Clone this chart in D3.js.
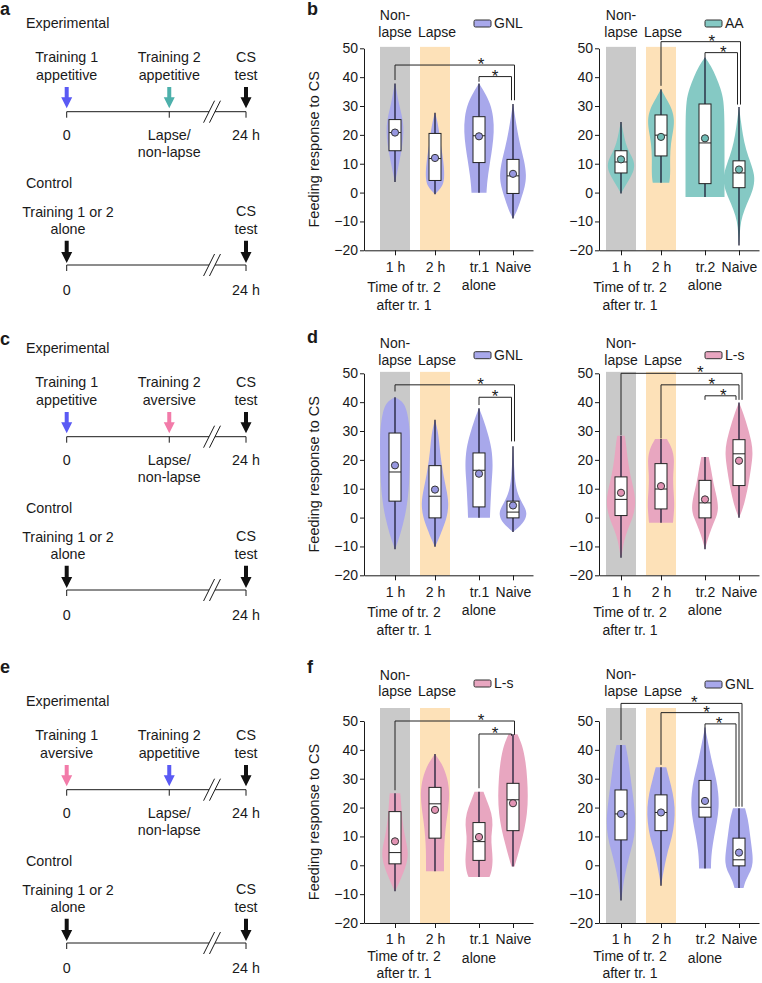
<!DOCTYPE html>
<html>
<head>
<meta charset="utf-8">
<title>Lapse / non-lapse violins</title>
<script src="https://cdn.jsdelivr.net/npm/d3@7"></script>
<style>
	body { margin: 0; background: #fff; }
	svg text { font-family: 'Liberation Sans', Arial, Helvetica, sans-serif; fill: #1a1a1a; }
	.axis path, .axis line { stroke: #1a1a1a; stroke-width: 1; fill: none; }
	.axis text { font-size: 14px; }
</style>
</head>
<body>
<script>
// ---- data ----
var catsTr1 = ["1 h", "2 h", "tr.1", "Naive"];
var catsTr2 = ["1 h", "2 h", "tr.2", "Naive"];
var yTicks = [-20, -10, 0, 10, 20, 30, 40, 50];

// box stats per group: [q1, median, q3, mean]
var boxB1 = [[14.5, 20.8, 25.3, 20.8], [4.2, 11.8, 20.5, 12], [10.4, 19.7, 26.3, 19.5], [-0.3, 5.8, 11.5, 6.5]];
var boxB2 = [[6.8, 10.6, 14.5, 11.5], [12.7, 19.9, 26.9, 19.3], [3.1, 17.2, 30.7, 18.8], [1.7, 6.8, 11, 8]];
var boxD1 = [[5.7, 15.8, 29.3, 18.1], [-0.1, 7.4, 18, 9.7], [3.7, 16.4, 22.4, 15.2], [-0.1, 1.9, 5.7, 4.2]];
var boxD2 = [[0.7, 6.3, 14.1, 8.6], [3, 9.9, 18.7, 10.9], [-0.1, 5.1, 12.9, 6.3], [11.1, 22.1, 27, 19.7]];
var boxF1 = [[0.5, 4.4, 18.6, 8.3], [9.4, 21.3, 27, 19.2], [1.7, 8.2, 14.8, 9.8], [12, 22.7, 28.4, 21.5]];
var boxF2 = [[8.8, 17.8, 26.1, 17.8], [12, 18.3, 24.4, 18.3], [16.7, 20.1, 29.4, 22.3], [-0.2, 1.9, 9.4, 4.4]];

// violin outlines, top to bottom: [value, relative half-width]
var violinB1 = [
	[[37.8, 0], [35, 0.12], [31, 0.25], [27, 0.45], [23, 0.58], [19, 0.55], [15, 0.45], [11, 0.3], [7, 0.15], [3.7, 0]],
	[[27.7, 0], [25, 0.15], [21, 0.28], [17, 0.38], [13, 0.5], [9, 0.6], [5, 0.63], [2, 0.5], [-0.6, 0]],
	[[37.8, 0], [35, 0.35], [31, 0.75], [26, 0.97], [21, 1.0], [16, 0.9], [11, 0.75], [6, 0.6], [2, 0.52], [-0.1, 0.5]],
	[[30.7, 0], [26, 0.15], [21, 0.3], [16, 0.5], [11, 0.75], [6, 0.9], [2, 0.8], [-2, 0.55], [-6, 0.3], [-9, 0]]
];
var violinB2 = [
	[[24.5, 0], [21, 0.15], [17, 0.3], [14, 0.55], [11, 0.88], [8, 0.9], [5, 0.6], [2, 0.25], [-0.3, 0]],
	[[35.8, 0], [33, 0.3], [29, 0.75], [25, 0.9], [21, 0.8], [17, 0.65], [12, 0.6], [8, 0.62], [5, 0.6], [3.4, 0.55]],
	[[46.9, 0], [44, 0.4], [40, 0.75], [36, 1.05], [32, 1.25], [25, 1.3], [15, 1.3], [5, 1.3], [-1.5, 1.3]],
	[[29.7, 0], [25, 0.12], [20, 0.25], [15, 0.45], [10, 0.8], [6, 1.05], [2, 1.0], [-2, 0.7], [-6, 0.35], [-10, 0.12], [-14, 0.05], [-18.3, 0]]
];
var violinD1 = [
	[[41.7, 0], [40, 0.6], [36, 0.85], [30, 1.0], [24, 1.0], [18, 0.98], [12, 0.95], [6, 0.85], [0, 0.65], [-5, 0.4], [-9, 0.15], [-11, 0]],
	[[33.9, 0], [30, 0.2], [25, 0.3], [20, 0.4], [15, 0.55], [10, 0.75], [5, 0.93], [0, 0.8], [-4, 0.5], [-8, 0.2], [-10.1, 0]],
	[[37.9, 0], [34, 0.3], [29, 0.6], [24, 0.85], [18, 0.93], [13, 0.85], [8, 0.8], [3, 0.75], [-0.1, 0.73]],
	[[24.7, 0], [20, 0.05], [15, 0.1], [10, 0.2], [6, 0.5], [3, 0.85], [1, 0.93], [-2, 0.7], [-5, 0]]
];
var violinD2 = [
	[[28.4, 0.25], [25, 0.35], [20, 0.45], [15, 0.6], [10, 0.85], [5, 1.0], [0, 0.8], [-4, 0.45], [-8, 0.2], [-12, 0.08], [-13.9, 0]],
	[[27.2, 0.4], [24, 0.75], [20, 0.9], [15, 0.8], [10, 0.82], [5, 0.9], [1, 0.85], [-1.8, 0.8]],
	[[21, 0.25], [17, 0.4], [12, 0.55], [7, 0.8], [3, 0.9], [0, 0.75], [-4, 0.4], [-8, 0.15], [-11, 0]],
	[[39.9, 0], [36, 0.3], [31, 0.6], [26, 0.85], [22, 0.93], [17, 0.8], [12, 0.65], [7, 0.45], [3, 0.25], [-0.1, 0]]
];
var violinF1 = [
	[[25, 0.35], [22, 0.4], [18, 0.45], [13, 0.55], [8, 0.75], [4, 0.9], [0, 0.75], [-4, 0.45], [-7, 0.2], [-9, 0]],
	[[38.6, 0], [35, 0.5], [30, 0.85], [25, 0.97], [20, 0.9], [15, 0.75], [10, 0.65], [5, 0.6], [0, 0.6], [-2.1, 0.6]],
	[[25.5, 0.3], [22, 0.55], [18, 0.85], [14, 0.93], [10, 0.8], [6, 0.85], [2, 0.93], [-2, 0.85], [-4.1, 0.7]],
	[[45.4, 0.3], [42, 0.6], [36, 0.85], [30, 0.95], [24, 1.0], [18, 0.95], [12, 0.75], [7, 0.5], [3, 0.3], [-0.4, 0.1]]
];
var violinF2 = [
	[[41.7, 0.3], [38, 0.45], [32, 0.6], [26, 0.75], [20, 0.9], [15, 0.97], [10, 0.9], [5, 0.65], [0, 0.4], [-5, 0.2], [-10, 0.07], [-12.2, 0]],
	[[34, 0.35], [30, 0.55], [25, 0.8], [20, 0.93], [15, 0.9], [10, 0.75], [5, 0.45], [0, 0.25], [-4, 0.1], [-7.1, 0]],
	[[47.8, 0], [44, 0.15], [40, 0.3], [35, 0.5], [30, 0.75], [25, 0.9], [20, 0.93], [15, 0.8], [10, 0.6], [5, 0.45], [1, 0.4], [-1.1, 0.4]],
	[[19.8, 0.4], [16, 0.6], [12, 0.7], [8, 0.8], [4, 0.9], [1, 0.93], [-2, 0.8], [-5, 0.45], [-7.9, 0.3]]
];

// significance brackets: [from, to, level, left leg end, right leg end, star position]
var bracketsB1 = [[0, 3, 44.2, 39, 32, 2.15], [2, 3, 40.2, 38.4, 32, 2.5]];
var bracketsB2 = [[1, 3, 52.3, 37, 30.5, 2.27], [2, 3, 48.5, 46.9, 30.5, 2.56]];
var bracketsD1 = [[0, 3, 46, 43.7, 26.4, 2.14], [2, 3, 41.7, 39, 26.4, 2.5]];
var bracketsD2 = [[0, 3, 50, 28.6, 40.8, 1.98], [1, 3, 46, 27.4, 40.8, 2.27], [2, 3, 42.2, 40.8, 40.8, 2.56]];
var bracketsF1 = [[0, 3, 50, 26, 45.2, 2.15], [2, 3, 45.5, 26.7, 44.9, 2.5]];
var bracketsF2 = [[0, 3, 56.1, 43.4, 20.3, 1.83], [1, 3, 52.9, 34.8, 20.3, 2.14], [2, 3, 49, 47.8, 20.3, 2.45]];

// schematic texts (training kinds for training 1 / training 2)
var trainingKinds = [["appetitive", "appetitive"], ["appetitive", "aversive"], ["aversive", "appetitive"]];

// ---- styles / layout ----
var groupStyle = {
	"GNL": {fill: "#a8a8eb", dot: "#9797e0"},
	"AA": {fill: "#85c9c4", dot: "#6fbcb6"},
	"L-s": {fill: "#e8a6c0", dot: "#e293b3"}
};
var arrowCol = {blue: "#5a5af4", teal: "#4db0ab", pink: "#f27ba9", black: "#111"};
var catPos = [0, 1, 2.1, 2.95];
var step = 40;

var panels = [
	{letter: "b", side: 0, yTop: 48.3, cats: catsTr1, box: boxB1, vio: violinB1, br: bracketsB1, group: "GNL", letterDy: -33.3, nonDy: -28.3, lapseDy: -11.6, legDy: -28.3, bandTop: 50.5},
	{letter: "", side: 1, yTop: 48.3, cats: catsTr2, box: boxB2, vio: violinB2, br: bracketsB2, group: "AA", nonDy: -28.3, lapseDy: -11.6, legDy: -28.3, bandTop: 50.5},
	{letter: "d", side: 0, yTop: 373.3, cats: catsTr1, box: boxD1, vio: violinD1, br: bracketsD1, group: "GNL", letterDy: -30.3, nonDy: -25, lapseDy: -8.3, legDy: -21.6, bandTop: 50.5},
	{letter: "", side: 1, yTop: 373.3, cats: catsTr2, box: boxD2, vio: violinD2, br: bracketsD2, group: "L-s", nonDy: -25, lapseDy: -8.3, legDy: -21.6, bandTop: 50.5},
	{letter: "f", side: 0, yTop: 721, cats: catsTr1, box: boxF1, vio: violinF1, br: bracketsF1, group: "L-s", letterDy: -48, nonDy: -41.5, lapseDy: -24.6, legDy: -41, bandTop: 54.5},
	{letter: "", side: 1, yTop: 721, cats: catsTr2, box: boxF2, vio: violinF2, br: bracketsF2, group: "GNL", nonDy: -42.5, lapseDy: -25.5, legDy: -40, bandTop: 54.5}
];

var diagrams = [
	{letter: "a", oy: 0, letterY: 15, c1: arrowCol.blue, c2: arrowCol.teal},
	{letter: "c", oy: 325, letterY: 345, c1: arrowCol.blue, c2: arrowCol.pink},
	{letter: "e", oy: 678, letterY: 673, c1: arrowCol.pink, c2: arrowCol.blue}
];

var svg = d3.select("body").append("svg")
	.attr("width", 762)
	.attr("height", 983);

function label(g, x, y, txt, anchor, size, weight) {
	return g.append("text")
		.attr("x", x)
		.attr("y", y)
		.attr("text-anchor", anchor || "middle")
		.style("font-size", (size || 14) + "px")
		.style("font-weight", weight || "normal")
		.text(txt);
}

// ---- schematic panels a, c, e ----
var tl = d3.scaleLinear().domain([0, 1]).range([66.7, 246]);
var evPos = [0, 0.572, 1];
var breakPos = [0.794, 0.827];

function arrow(g, x, top, tip, color) {
	var hw = 5.5, sw = 2, hh = 11;
	g.append("path")
		.attr("d", "M" + (x - sw) + "," + top + "H" + (x + sw) + "V" + (tip - hh) + "H" + (x + hw) +
			"L" + x + "," + tip + "L" + (x - hw) + "," + (tip - hh) + "H" + (x - sw) + "Z")
		.attr("fill", color);
}

function timeline(g, y, ticks) {
	g.append("line").attr("x1", tl(0)).attr("x2", tl(breakPos[0])).attr("y1", y).attr("y2", y).attr("stroke", "#1a1a1a");
	g.append("line").attr("x1", tl(breakPos[1])).attr("x2", tl(1)).attr("y1", y).attr("y2", y).attr("stroke", "#1a1a1a");
	ticks.forEach(function (t) {
		g.append("line").attr("x1", tl(t)).attr("x2", tl(t)).attr("y1", y).attr("y2", y + 6).attr("stroke", "#1a1a1a");
	});
	breakPos.forEach(function (b) {
		g.append("line")
			.attr("x1", tl(b) + 5.5).attr("y1", y - 11)
			.attr("x2", tl(b) - 5.5).attr("y2", y + 11)
			.attr("stroke", "#1a1a1a");
	});
}

diagrams.forEach(function (d, i) {
	var g = svg.append("g").attr("transform", "translate(0," + d.oy + ")");
	label(svg, 0, d.letterY, d.letter, "start", 18, "bold");
	var fs = 14.3;
	label(g, 26, 28.3, "Experimental", "start", fs);
	label(g, tl(evPos[0]), 62, "Training 1", "middle", fs);
	label(g, tl(evPos[0]), 79.5, trainingKinds[i][0], "middle", fs);
	label(g, tl(evPos[1]), 62, "Training 2", "middle", fs);
	label(g, tl(evPos[1]), 79.5, trainingKinds[i][1], "middle", fs);
	label(g, tl(evPos[2]), 62, "CS", "middle", fs);
	label(g, tl(evPos[2]), 79.5, "test", "middle", fs);
	arrow(g, tl(evPos[0]), 87, 108.3, d.c1);
	arrow(g, tl(evPos[1]), 87, 108.3, d.c2);
	arrow(g, tl(evPos[2]), 87, 108.3, arrowCol.black);
	timeline(g, 111.7, evPos);
	label(g, tl(evPos[0]), 140, "0", "middle", fs);
	label(g, tl(evPos[1]), 140, "Lapse/", "middle", fs);
	label(g, tl(evPos[1]), 157, "non-lapse", "middle", fs);
	label(g, tl(evPos[2]), 140, "24 h", "middle", fs);

	label(g, 26, 188, "Control", "start", fs);
	label(g, tl(evPos[0]) + 1.3, 216.7, "Training 1 or 2", "middle", fs);
	label(g, tl(evPos[0]) + 1.3, 234, "alone", "middle", fs);
	label(g, tl(evPos[2]), 216, "CS", "middle", fs);
	label(g, tl(evPos[2]), 233.5, "test", "middle", fs);
	arrow(g, tl(evPos[0]), 240.7, 263, arrowCol.black);
	arrow(g, tl(evPos[2]), 240.7, 263, arrowCol.black);
	timeline(g, 265, [evPos[0], evPos[2]]);
	label(g, tl(evPos[0]), 295, "0", "middle", fs);
	label(g, tl(evPos[2]), 295, "24 h", "middle", fs);
});

// ---- violin panels b, d, f ----
function drawPanel(p) {
	var axisX = p.side === 0 ? 364 : 599;
	var firstX = p.side === 0 ? 395 : 621;
	var st = groupStyle[p.group];
	var y = d3.scaleLinear().domain([-20, 50]).range([p.yTop + 202, p.yTop]);
	var lo = (axisX - firstX) / step, hi = catPos[3] + 20 / step;
	var x = d3.scaleLinear().domain([lo, hi]).range([axisX, firstX + hi * step]);
	var w = d3.scaleLinear().domain([0, 1]).range([0, 15]);
	var g = svg.append("g");

	// non-lapse / lapse bands
	g.selectAll("rect.band")
		.data([0, 1])
		.enter()
		.append("rect")
		.attr("class", "band")
		.attr("x", function (i) { return x(catPos[i] - 0.375); })
		.attr("width", function (i) { return x(catPos[i] + 0.375) - x(catPos[i] - 0.375); })
		.attr("y", y(p.bandTop))
		.attr("height", y(-20) - y(p.bandTop))
		.attr("fill", function (i) { return i === 0 ? "#c9c9c9" : "#fde1b8"; });

	// violins
	p.vio.forEach(function (prof, i) {
		var cx = x(catPos[i]);
		var area = d3.area()
			.curve(d3.curveBasis)
			.y(function (d) { return y(d[0]); })
			.x0(function (d) { return cx - w(d[1]); })
			.x1(function (d) { return cx + w(d[1]); });
		g.append("path").attr("d", area(prof)).attr("fill", st.fill);
	});

	// whiskers, boxes, means
	p.box.forEach(function (b, i) {
		var cx = x(catPos[i]);
		var prof = p.vio[i];
		var top = prof[0][0], bot = prof[prof.length - 1][0];
		g.append("line")
			.attr("x1", cx).attr("x2", cx)
			.attr("y1", y(top)).attr("y2", y(bot))
			.attr("stroke", "#1c1c35").attr("stroke-width", 1.3);
		g.append("rect")
			.attr("x", cx - 6).attr("width", 12)
			.attr("y", y(b[2])).attr("height", y(b[0]) - y(b[2]))
			.attr("fill", "#fff").attr("stroke", "#222").attr("stroke-width", 1);
		g.append("line")
			.attr("x1", cx - 6).attr("x2", cx + 6)
			.attr("y1", y(b[1])).attr("y2", y(b[1]))
			.attr("stroke", "#222").attr("stroke-width", 1);
		g.append("circle")
			.attr("cx", cx).attr("cy", y(b[3])).attr("r", 3.6)
			.attr("fill", st.dot).attr("stroke", "#333").attr("stroke-width", 1);
	});

	// axes
	g.append("g")
		.attr("class", "axis")
		.attr("transform", "translate(" + axisX + ",0)")
		.call(d3.axisLeft(y).tickValues(yTicks).tickSize(4).tickPadding(2).tickSizeOuter(0));
	g.append("g")
		.attr("class", "axis")
		.attr("transform", "translate(0," + y(-20) + ")")
		.call(d3.axisBottom(x).tickValues(catPos)
			.tickFormat(function (d, i) { return p.cats[i]; })
			.tickSize(5).tickPadding(6.5).tickSizeOuter(0));

	var yb = y(-20);
	label(g, x(catPos[2]), yb + 39.5, "alone");
	var midX = (x(catPos[0]) + x(catPos[1])) / 2 - 11;
	label(g, midX, Math.min(yb + 42, 961), "Time of tr. 2");
	label(g, midX, Math.min(yb + 60, 978), "after tr. 1");

	if (p.side === 0) {
		g.append("text")
			.attr("transform", "translate(319," + y(15) + ") rotate(-90)")
			.attr("text-anchor", "middle")
			.style("font-size", "14.5px")
			.text("Feeding response to CS");
		label(g, 307, p.yTop + p.letterDy, p.letter, "start", 18, "bold");
	}

	// headers
	label(g, x(catPos[0]), p.yTop + p.nonDy, "Non-");
	label(g, x(catPos[0]), p.yTop + p.lapseDy, "lapse");
	label(g, x(catPos[1]) + 2, p.yTop + p.lapseDy, "Lapse");

	// legend
	var lx = axisX + (p.side === 0 ? 110 : 106), ly = p.yTop + p.legDy;
	g.append("rect")
		.attr("x", lx).attr("y", ly).attr("width", 17).attr("height", 7).attr("rx", 1.5)
		.attr("fill", st.fill).attr("stroke", "#333").attr("stroke-width", 1);
	label(g, lx + 20, ly + 8.3, p.group, "start");

	// significance brackets
	var n = p.br.length;
	p.br.forEach(function (b, k) {
		var dx = ((n - 1 - k) - (n - 1) / 2) * 3;
		var xa = x(catPos[b[0]]), xb = x(catPos[b[1]]) + dx;
		g.append("path")
			.attr("d", "M" + xa + "," + y(b[3]) + "V" + y(b[2]) + "H" + xb + "V" + y(b[4]))
			.attr("fill", "none").attr("stroke", "#222").attr("stroke-width", 1);
		label(g, x(b[5]), y(b[2]) + 5, "*", "middle", 17);
	});
}

panels.forEach(drawPanel);
</script>
</body>
</html>
